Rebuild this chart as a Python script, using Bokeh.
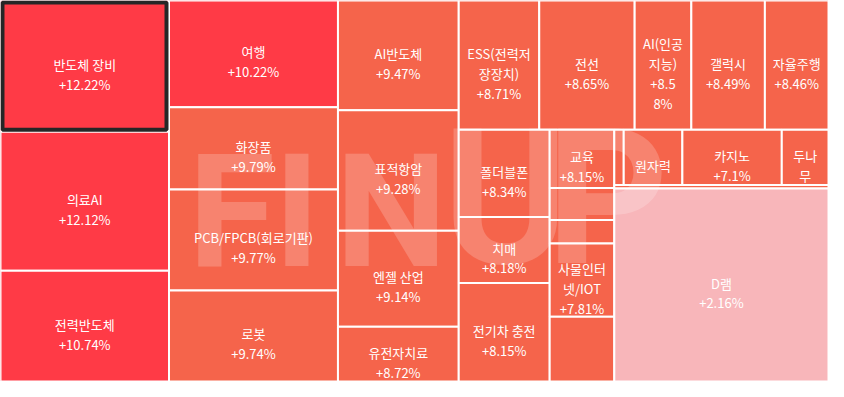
from bokeh.plotting import figure
from bokeh.models import ColumnDataSource, Range1d
from bokeh.embed import file_html
from bokeh.resources import INLINE
from bokeh.core.properties import value

# ---- data -------------------------------------------------------------
names = ["반도체 장비", "의료AI", "전력반도체",
         "여행", "화장품", "PCB/FPCB(회로기판)", "로봇",
         "AI반도체", "표적항암", "엔젤 산업", "유전자치료",
         "ESS(전력저장장치)", "전선", "AI(인공지능)", "갤럭시", "자율주행",
         "폴더블폰", "치매", "전기차 충전",
         "교육", "", "", "사물인터넷/IOT", "",
         "", "원자력", "카지노", "두나무", "", "D램"]
changes = [12.22, 12.12, 10.74,
           10.22, 9.79, 9.77, 9.74,
           9.47, 9.28, 9.14, 8.72,
           8.71, 8.65, 8.58, 8.49, 8.46,
           8.34, 8.18, 8.15,
           8.15, None, None, 7.81, None,
           None, None, 7.1, None, None, 2.16]
# how each label is wrapped inside its tile (as shown)
labels = ["반도체 장비\n+12.22%", "의료AI\n+12.12%", "전력반도체\n+10.74%",
          "여행\n+10.22%", "화장품\n+9.79%", "PCB/FPCB(회로기판)\n+9.77%", "로봇\n+9.74%",
          "AI반도체\n+9.47%", "표적항암\n+9.28%", "엔젤 산업\n+9.14%", "유전자치료\n+8.72%",
          "ESS(전력저\n장장치)\n+8.71%", "전선\n+8.65%", "AI(인공\n지능)\n+8.5\n8%", "갤럭시\n+8.49%", "자율주행\n+8.46%",
          "폴더블폰\n+8.34%", "치매\n+8.18%", "전기차 충전\n+8.15%",
          "교육\n+8.15%", "", "", "사물인터\n넷/IOT\n+7.81%", "",
          "", "원자력", "카지노\n+7.1%", "두나\n무", "", "D램\n+2.16%"]
# tile bounds (treemap layout units)
x0 = [7, 7, 7,
      176.5, 176.5, 176.5, 176.5,
      346.5, 346.5, 346.5, 346.5,
      468, 549, 645, 702, 776,
      468, 468, 468,
      559.5, 559.5, 559.5, 559.5, 559.5,
      624.5, 634, 693, 793, 624.5, 624.5]
x1 = [176.5, 176.5, 176.5,
      346.5, 346.5, 346.5, 346.5,
      468, 468, 468, 468,
      549, 645, 702, 776, 840,
      559.5, 559.5, 559.5,
      624.5, 624.5, 624.5, 624.5, 624.5,
      634, 693, 793, 840, 840, 840]
y0 = [4, 138, 280,
      4, 113, 197, 300,
      4, 116, 239, 337,
      4, 4, 4, 4, 4,
      136, 225, 292.5,
      136, 195.5, 228, 252, 327,
      136, 136, 136, 136, 192.5, 196]
y1 = [138, 280, 393,
      113, 197, 300, 393,
      116, 239, 337, 393,
      136, 136, 136, 136, 136,
      225, 292.5, 393,
      195.5, 228, 252, 327, 393,
      192.5, 192.5, 192.5, 192.5, 196, 393]

RED, ORANGE, PINK = "#FF3A46", "#F5644B", "#F8B6BA"


def tile_color(v):
    if v is None:
        return ORANGE
    if v >= 10:
        return RED
    if v >= 5:
        return ORANGE
    return PINK


colors = [tile_color(v) for v in changes]
colors[-1] = PINK

src = ColumnDataSource(dict(
    x0=x0, x1=x1, y0=y0, y1=y1, color=colors, label=labels, name=names,
    cx=[(a + b) / 2 for a, b in zip(x0, x1)],
    cy=[(a + b) / 2 for a, b in zip(y0, y1)],
))

# ---- figure -----------------------------------------------------------
BG = "#F3F4F9"
p = figure(width=828, height=381, output_backend="svg", toolbar_location=None,
           x_range=Range1d(7, 840), y_range=Range1d(393, 4),
           x_axis_location=None, y_axis_location=None, min_border=0)
p.grid.visible = False
p.outline_line_color = None
p.background_fill_color = BG
p.border_fill_color = BG

p.quad(left="x0", right="x1", top="y0", bottom="y1", source=src,
       fill_color="color", line_color="white", line_width=2)

# watermark logo letters
wm_letters = ["F", "I", "N", "U", "P"]
wm_x = [196, 282, 344, 452, 556]
wm_y = [220, 220, 220, 206, 206]
wm_size = ["158px", "158px", "158px", "190px", "190px"]
p.text(x=wm_x, y=wm_y, text=wm_letters, text_font=value("Roboto"),
       text_font_style="bold", text_font_size=wm_size, text_color="white",
       text_alpha=0.2, text_align="left", text_baseline="alphabetic")

# highlighted tile border
p.quad(left=[x0[0] + 2], right=[x1[0] - 2.5], top=[y0[0] + 2], bottom=[y1[0] - 2],
       fill_color=None, line_color="#262626", line_width=4)

p.text(x="cx", y="cy", text="label", source=src,
       text_font=value("Noto Sans CJK KR"), text_font_size="13px",
       text_color="white", text_align="center", text_baseline="middle",
       text_line_height=1.05, y_offset=8)

html = file_html(p, INLINE)
open("out.html", "w").write(html)
